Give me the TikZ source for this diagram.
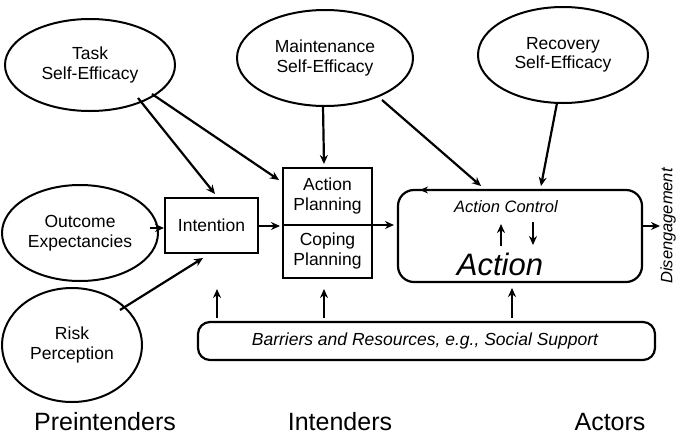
\documentclass[tikz,border=0pt]{standalone}
\usepackage{fontspec}
\setmainfont{Liberation Sans}
\usetikzlibrary{arrows.meta}
\begin{document}
\begin{tikzpicture}[x=1pt,y=-1pt,
  ell/.style={draw,line width=2pt},
  box/.style={draw,line width=2pt},
  txt/.style={align=center,font=\fontsize{17.5}{19.5}\selectfont},
  arr/.style={line width=2.2pt,-{Stealth[length=9pt,width=8pt]}},
  lab/.style={font=\fontsize{25}{27}\selectfont}]
\useasboundingbox (0,0) rectangle (680,440);
\draw[ell] (90,65) ellipse (85 and 46);
\node[txt] (tse) at (90,65) {Task\\Self-Efficacy};
\draw[ell] (325,58) ellipse (88 and 48);
\node[txt] (mse) at (325,58) {Maintenance\\Self-Efficacy};
\draw[ell] (563,55) ellipse (85 and 48);
\node[txt] (rse) at (563,55) {Recovery\\Self-Efficacy};
\draw[ell] (80,233) ellipse (78 and 48);
\node[txt] (oe) at (80,233) {Outcome\\Expectancies};
\draw[ell] (72,345) ellipse (70 and 57);
\node[txt] (rp) at (72,345) {Risk\\Perception};
\draw[box] (165,198) rectangle (258,253);
\node[txt] (int) at (211.5,225.5) {Intention};
\draw[box] (283,168) rectangle (372,278);
\draw[line width=2pt] (283,225) -- (372,225);
\node[txt] (ap) at (327.5,196) {Action\\Planning};
\node[txt] (cp) at (327.5,251) {Coping\\Planning};
\draw[line width=2.2pt,rounded corners=16pt] (398,190) rectangle (642,282);
\node[font=\fontsize{16.5}{18}\selectfont\itshape] (ac) at (506,207) {Action Control};
\node[font=\fontsize{31}{33}\selectfont\itshape] (act) at (500,264) {Action};
\draw[line width=2.2pt,rounded corners=12pt] (198,322) rectangle (655,360);
\node[font=\fontsize{17.5}{19}\selectfont\itshape] (bar) at (425,341) {Barriers and Resources, e.g., Social Support};
\node[rotate=90,font=\fontsize{16.5}{18}\selectfont\itshape] (dis) at (668,226) {Disengagement};
\node[lab] (pre) at (105,422) {Preintenders};
\node[lab] (inten) at (340,422) {Intenders};
\node[lab] (acto) at (610,422) {Actors};
\draw[arr] (138,98) -- (215,194);
\draw[arr] (152,94) -- (279,180);
\draw[arr] (323,106) -- (324,164);
\draw[arr] (382,100) -- (481,186);
\draw[arr] (557,103) -- (541,186);
\draw[arr] (150,228) -- (164,228);
\draw[arr] (258,226) -- (280,226);
\draw[arr] (364,225) -- (394,225);
\draw[arr] (120,310) -- (203,258);
\draw[arr] (217,318) -- (217,289);
\draw[arr] (324,318) -- (324,289);
\draw[arr] (512,318) -- (512,288);
\draw[arr] (642,226) -- (660,226);
\draw[arr] (501,246) -- (501,224);
\draw[arr] (533,222) -- (533,245);
\draw[line width=1.6pt,-{Stealth[length=8pt,width=7pt]}] (434,190) -- (420,190);
\end{tikzpicture}
\end{document}
